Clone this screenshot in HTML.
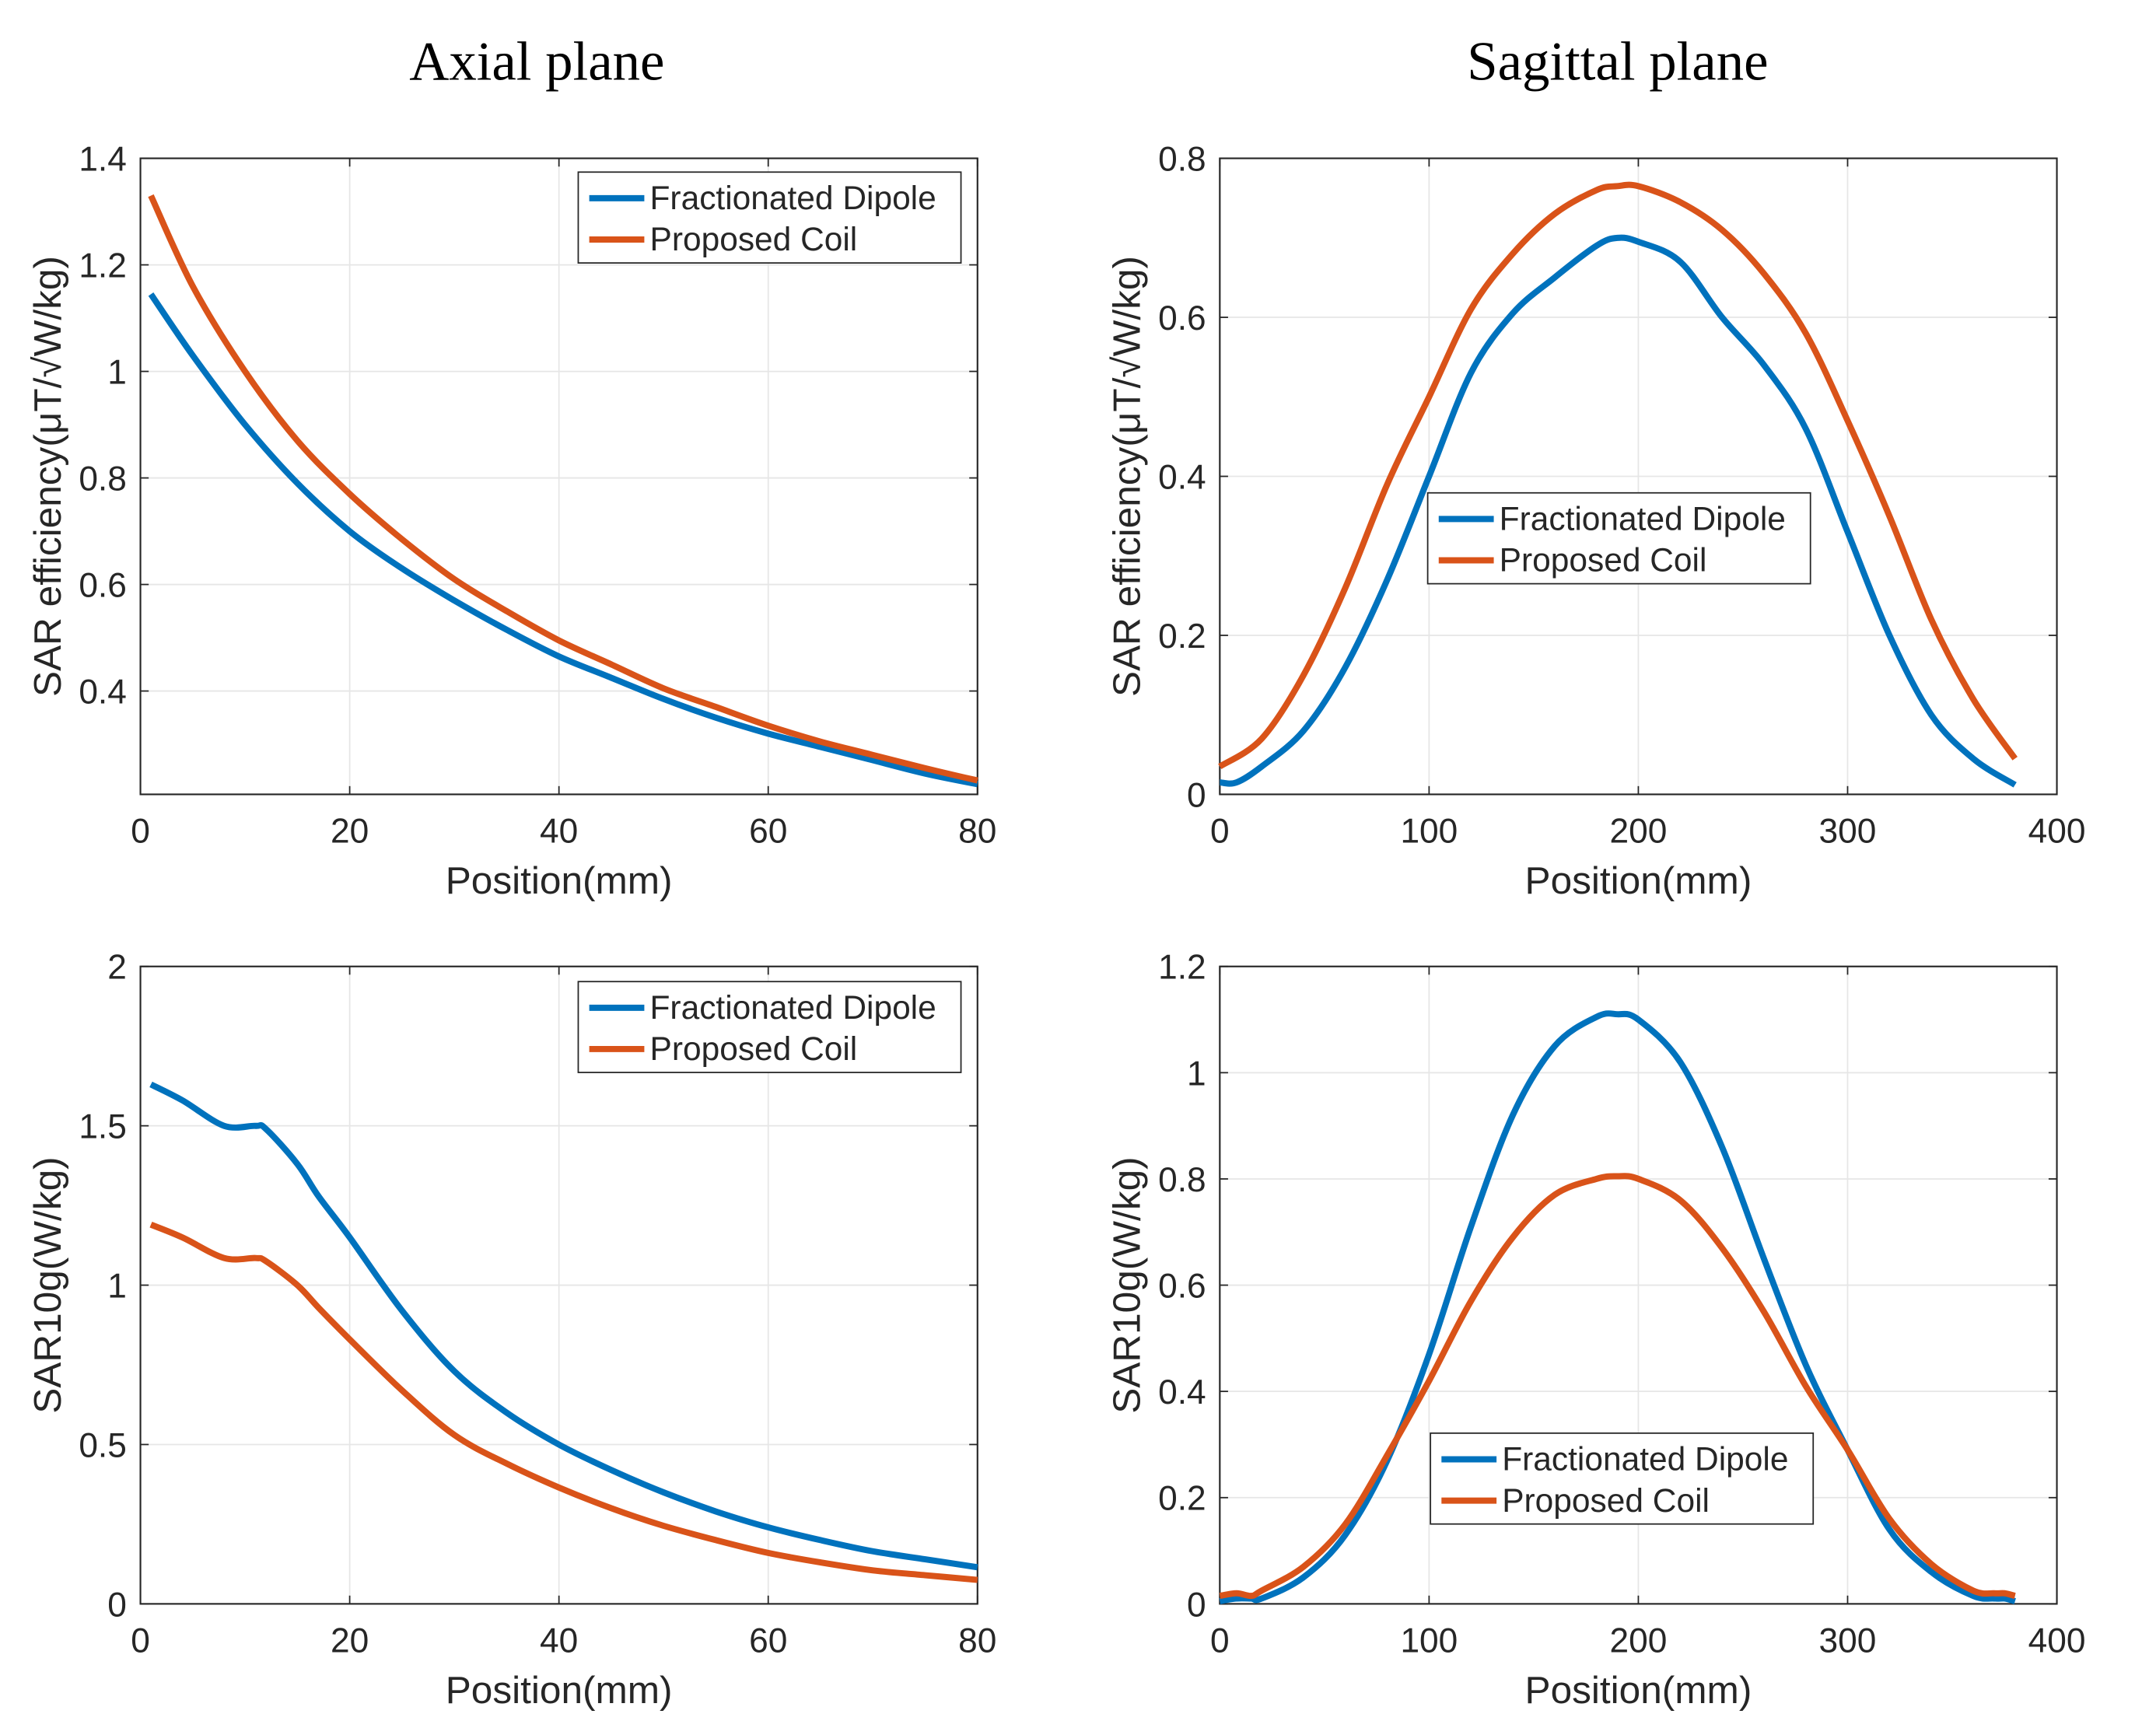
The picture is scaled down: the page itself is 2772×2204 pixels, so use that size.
<!DOCTYPE html>
<html><head><meta charset="utf-8"><style>
html,body{margin:0;padding:0;background:#fff;}
svg{display:block;}
text{font-family:"Liberation Sans",sans-serif;fill:#262626;}
.ttl{font-family:"Liberation Serif",serif;fill:#000;}
</style></head><body>
<svg id="fig" width="2772" height="2204" viewBox="0 0 1566 1245" preserveAspectRatio="none" xmlns="http://www.w3.org/2000/svg">
<text class="ttl" x="390" y="58" font-size="40" text-anchor="middle">Axial plane</text>
<text class="ttl" x="1175" y="58" font-size="40" text-anchor="middle">Sagittal plane</text>
</svg>
<script>
// Top-left: axial SAR efficiency
const tlX = [1,5,10,15,20,25,30,35,40,45,50,55,60,65,70,75,80];
const tlBlue = [1.145,1.03,0.90,0.79,0.70,0.63,0.57,0.515,0.465,0.425,0.385,0.35,0.32,0.295,0.27,0.245,0.225];
const tlOrange = [1.33,1.16,1.00,0.87,0.77,0.685,0.61,0.55,0.495,0.45,0.405,0.37,0.335,0.305,0.28,0.255,0.232];
const tlXTicks = [0,20,40,60,80];
const tlYTicks = [0.4,0.6,0.8,1,1.2,1.4];
// Top-right: sagittal SAR efficiency
const trX = [0,8,20,40,60,80,100,120,140,160,180,190,200,220,240,260,280,300,320,340,360,380];
const trBlue = [0.015,0.015,0.035,0.08,0.16,0.27,0.40,0.53,0.605,0.65,0.69,0.70,0.695,0.67,0.60,0.54,0.46,0.33,0.20,0.10,0.045,0.012];
const trOrangeX = [0,20,40,60,80,100,120,140,160,180,190,200,220,240,260,280,300,320,340,360,380];
const trOrange = [0.035,0.07,0.15,0.26,0.39,0.50,0.61,0.68,0.73,0.76,0.765,0.765,0.745,0.71,0.655,0.58,0.47,0.35,0.22,0.12,0.045];
const trXTicks = [0,100,200,300,400];
const trYTicks = [0,0.2,0.4,0.6,0.8];
// Bottom-left: axial SAR10g
const blX = [1,4,8,11,12,15,17,20,25,30,35,40,45,50,55,60,65,70,75,80];
const blBlue = [1.63,1.58,1.50,1.50,1.49,1.38,1.28,1.15,0.92,0.73,0.60,0.50,0.42,0.35,0.29,0.24,0.20,0.165,0.14,0.115];
const blOrange = [1.19,1.15,1.085,1.085,1.075,1.0,0.93,0.83,0.67,0.53,0.44,0.365,0.30,0.245,0.20,0.16,0.13,0.105,0.09,0.075];
const blXTicks = [0,20,40,60,80];
const blYTicks = [0,0.5,1,1.5,2];
// Bottom-right: sagittal SAR10g
const brX = [0,8,15,20,40,60,80,100,120,140,160,180,190,200,220,240,260,280,300,320,340,360,370,375,380];
const brBlue = [0.005,0.01,0.01,0.01,0.05,0.13,0.27,0.47,0.71,0.92,1.05,1.105,1.11,1.10,1.02,0.86,0.65,0.45,0.29,0.14,0.06,0.015,0.01,0.01,0.005];
const brOrange = [0.015,0.02,0.015,0.025,0.07,0.15,0.28,0.42,0.57,0.69,0.77,0.80,0.805,0.80,0.76,0.67,0.55,0.41,0.29,0.16,0.075,0.025,0.02,0.02,0.015];
const brXTicks = [0,100,200,300,400];
const brYTicks = [0,0.2,0.4,0.6,0.8,1,1.2];

const NS='http://www.w3.org/2000/svg';
const svg=document.getElementById('fig');
function mk(tag,attrs,parent){const e=document.createElementNS(NS,tag);for(const k in attrs)e.setAttribute(k,attrs[k]);(parent||svg).appendChild(e);return e;}
function smooth(pts){
  let d='M'+pts[0][0].toFixed(1)+','+pts[0][1].toFixed(1);
  for(let i=0;i<pts.length-1;i++){
    const p0=pts[Math.max(0,i-1)],p1=pts[i],p2=pts[i+1],p3=pts[Math.min(pts.length-1,i+2)];
    const c1=[p1[0]+(p2[0]-p0[0])/6,p1[1]+(p2[1]-p0[1])/6];
    const c2=[p2[0]-(p3[0]-p1[0])/6,p2[1]-(p3[1]-p1[1])/6];
    d+=' C'+c1[0].toFixed(1)+','+c1[1].toFixed(1)+' '+c2[0].toFixed(1)+','+c2[1].toFixed(1)+' '+p2[0].toFixed(1)+','+p2[1].toFixed(1);
  }
  return d;
}

function panel(id,box,xr,yr,xt,yt,series,ylabel,leg){
  const g=mk('g',{});
  
  
  const sx=v=>box.x0+(v-xr[0])/(xr[1]-xr[0])*(box.x1-box.x0);
  const sy=v=>box.y1-(v-yr[0])/(yr[1]-yr[0])*(box.y1-box.y0);
  mk('rect',{x:box.x0,y:box.y0,width:box.x1-box.x0,height:box.y1-box.y0,fill:'#fff'},g);
  xt.forEach(v=>{
    const X=sx(v);
    const gl=mk('line',{x1:X,x2:X,y1:box.y0,y2:box.y1,stroke:'#e6e6e6','stroke-width':1},g);
    
    
    mk('line',{x1:X,x2:X,y1:box.y1,y2:box.y1-6,stroke:'#262626','stroke-width':1},g);
    mk('line',{x1:X,x2:X,y1:box.y0,y2:box.y0+6,stroke:'#262626','stroke-width':1},g);
    const t=mk('text',{x:X,y:box.y1+35,'font-size':25,'text-anchor':'middle'},g);
    t.textContent=String(v);
    
    
  });
  yt.forEach(v=>{
    const Y=sy(v);
    const gl=mk('line',{x1:box.x0,x2:box.x1,y1:Y,y2:Y,stroke:'#e6e6e6','stroke-width':1},g);
    
    
    mk('line',{x1:box.x0,x2:box.x0+6,y1:Y,y2:Y,stroke:'#262626','stroke-width':1},g);
    mk('line',{x1:box.x1,x2:box.x1-6,y1:Y,y2:Y,stroke:'#262626','stroke-width':1},g);
    const t=mk('text',{x:box.x0-10,y:Y+9,'font-size':25,'text-anchor':'end'},g);
    t.textContent=String(v);
    
    
  });
  const ax=mk('rect',{x:box.x0,y:box.y0,width:box.x1-box.x0,height:box.y1-box.y0,fill:'none',stroke:'#262626','stroke-width':1.2},g);
  
  
  series.forEach(s=>{
    const pts=s.x.map((v,i)=>[sx(v),sy(s.y[i])]);
    const p=mk('path',{d:smooth(pts),fill:'none',stroke:s.c,'stroke-width':4.5,'stroke-linejoin':'round'},g);
    
    
  });
  const xl=mk('text',{x:(box.x0+box.x1)/2,y:box.y1+72,'font-size':28,'text-anchor':'middle'},g);
  xl.textContent='Position(mm)';
  
  
  const cy=(box.y0+box.y1)/2;
  const yl=mk('text',{x:0,y:0,'font-size':28,'text-anchor':'middle',transform:'translate('+(box.x0-58)+','+cy+') rotate(-90)'},g);
  yl.textContent=ylabel;
  
  
  const lg=mk('g',{},g);
  
  
  mk('rect',{x:leg.x,y:leg.y,width:278,height:66,fill:'#fff',stroke:'#262626','stroke-width':1},lg);
  series.forEach((s,i)=>{
    const yy=leg.y+19+i*30;
    mk('line',{x1:leg.x+8,x2:leg.x+48,y1:yy,y2:yy,stroke:s.c,'stroke-width':4.5},lg);
    const t=mk('text',{x:leg.x+52,y:yy+8,'font-size':24},lg);
    t.textContent=s.label;
    
    
  });
}
const B='#0072BD',O='#D95319';
panel('axial-efficiency',{x0:102,x1:710,y0:115,y1:577},[0,80],[0.206,1.4],tlXTicks,tlYTicks,
 [{x:tlX,y:tlBlue,c:B,n:'fractionated-dipole-line',label:'Fractionated Dipole'},{x:tlX,y:tlOrange,c:O,n:'proposed-coil-line',label:'Proposed Coil'}],
 'SAR efficiency(μT/√W/kg)',{x:420,y:125});
panel('sagittal-efficiency',{x0:886,x1:1494,y0:115,y1:577},[0,400],[0,0.8],trXTicks,trYTicks,
 [{x:trX,y:trBlue,c:B,n:'fractionated-dipole-line',label:'Fractionated Dipole'},{x:trOrangeX,y:trOrange,c:O,n:'proposed-coil-line',label:'Proposed Coil'}],
 'SAR efficiency(μT/√W/kg)',{x:1037,y:358});
panel('axial-sar10g',{x0:102,x1:710,y0:702,y1:1165},[0,80],[0,2],blXTicks,blYTicks,
 [{x:blX,y:blBlue,c:B,n:'fractionated-dipole-line',label:'Fractionated Dipole'},{x:blX,y:blOrange,c:O,n:'proposed-coil-line',label:'Proposed Coil'}],
 'SAR10g(W/kg)',{x:420,y:713});
panel('sagittal-sar10g',{x0:886,x1:1494,y0:702,y1:1165},[0,400],[0,1.2],brXTicks,brYTicks,
 [{x:brX,y:brBlue,c:B,n:'fractionated-dipole-line',label:'Fractionated Dipole'},{x:brX,y:brOrange,c:O,n:'proposed-coil-line',label:'Proposed Coil'}],
 'SAR10g(W/kg)',{x:1039,y:1041});
</script>
</body></html>
